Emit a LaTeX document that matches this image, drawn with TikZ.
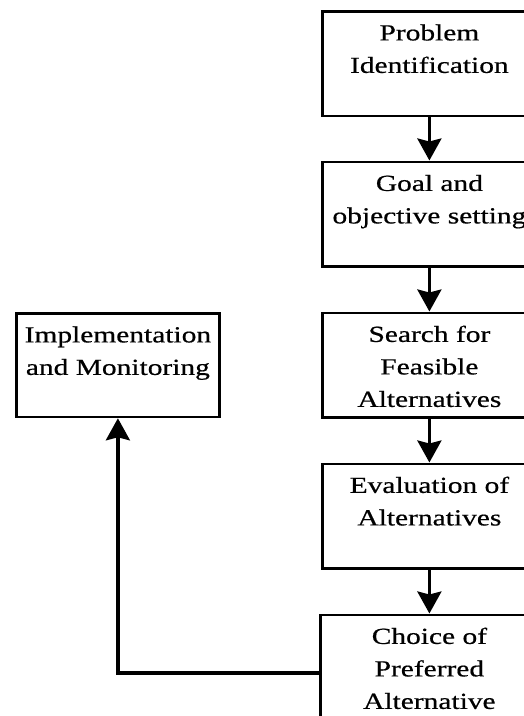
\documentclass[tikz,border=0pt]{standalone}
\usepackage{fontspec}
\setmainfont[FakeStretch=1.28,FakeBold=0.6]{Liberation Serif}
\usetikzlibrary{arrows.meta}
\newcommand\boxcontent[3]{\parbox[t][#2][t]{#1}{\centering\rule{0pt}{29pt}#3}}
\tikzset{
  stagebox/.style={draw, line width=2.8pt, inner sep=0pt, anchor=north west,
    font=\fontsize{23}{32.5}\selectfont},
  flow/.style={line width=3.2pt, -{Stealth[length=22pt,width=24pt,inset=3pt]}}
}
\begin{document}
\begin{tikzpicture}[x=1pt,y=-1pt]
\useasboundingbox (0,0) rectangle (524,716);
\clip (0,0) rectangle (524,716);
\node[stagebox] (prob) at (321,10) {\boxcontent{214pt}{104.5pt}{Problem\\Identification}};
\node[stagebox] (goal) at (321,160.5) {\boxcontent{214pt}{104.5pt}{Goal and\\objective setting}};
\node[stagebox] (search) at (321,311.5) {\boxcontent{214pt}{104.5pt}{Search for\\Feasible\\Alternatives}};
\node[stagebox] (eval) at (321,462.5) {\boxcontent{214pt}{104.5pt}{Evaluation of\\Alternatives}};
\node[stagebox] (choice) at (319,613.5) {\boxcontent{218pt}{116pt}{Choice of\\Preferred\\Alternative}};
\node[stagebox] (impl) at (15,312) {\boxcontent{203pt}{103.5pt}{Implementation\\and Monitoring}};
\draw[flow] (prob.south) -- (goal.north);
\draw[flow] (goal.south) -- (search.north);
\draw[flow] (search.south) -- (eval.north);
\draw[flow] (eval.south) -- (choice.north);
\draw[flow] (choice.west) -| (impl.south);
\end{tikzpicture}
\end{document}
